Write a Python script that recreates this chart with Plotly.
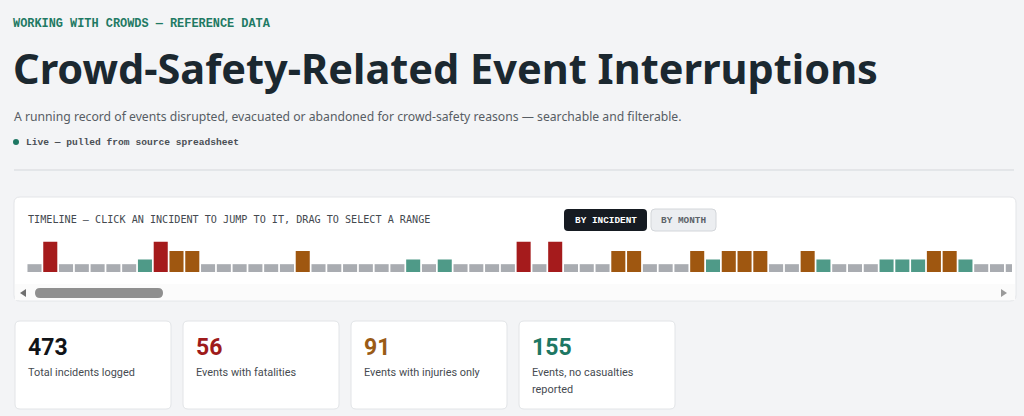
import plotly.graph_objects as go

W, H = 1024, 416

# incident sequence as seen in the visible window of the timeline
incident_type = [
    "U", "F", "U", "U", "U", "U", "U", "N", "F", "I",
    "I", "U", "U", "U", "U", "U", "U", "I", "U", "U",
    "U", "U", "U", "U", "N", "U", "N", "U", "U", "U",
    "U", "F", "U", "F", "U", "U", "U", "I", "I", "U",
    "U", "U", "I", "N", "I", "I", "I", "U", "U", "I",
    "N", "U", "U", "U", "N", "N", "N", "I", "I", "N",
    "U", "U", "U",
]
type_names = ["F", "I", "N", "U"]
type_labels = ["Fatalities", "Injuries only", "No casualties", "Not recorded"]
type_heights = [3.9, 2.7, 1.6, 1.0]
type_colors = ["#a51b1c", "#9f5710", "#4f9a88", "#a9acb1"]

kpi_values = ["473", "56", "91", "155"]
kpi_labels = [["Total incidents logged"], ["Events with fatalities"],
              ["Events with injuries only"], ["Events, no casualties", "reported"]]
kpi_colors = ["#111418", "#9e1b1b", "#9a5b16", "#1e7763"]

MONO = "Liberation Mono"
SANS = "Noto Sans"


def px(x):
    return x / W


def py(y):
    return 1 - y / H


def rrect(x0, y0, x1, y1, r):
    # rounded rectangle path in paper coordinates, given pixel box
    rx, ry = r / W, r / H
    a, b, c, d = px(x0), py(y1), px(x1), py(y0)
    return (f"M {a+rx},{b} L {c-rx},{b} Q {c},{b} {c},{b+ry} L {c},{d-ry} "
            f"Q {c},{d} {c-rx},{d} L {a+rx},{d} Q {a},{d} {a},{d-ry} "
            f"L {a},{b+ry} Q {a},{b} {a+rx},{b} Z")


fig = go.Figure()

for code, label, h, col in zip(type_names, type_labels, type_heights, type_colors):
    idx = [i for i, t in enumerate(incident_type) if t == code]
    fig.add_trace(go.Bar(
        x=idx, y=[h] * len(idx), name=label, marker_color=col,
        marker_line_width=0,
        hovertemplate="Incident #%{x}<br>" + label + "<extra></extra>",
    ))

shapes = []
# header rule
shapes.append(dict(type="line", xref="paper", yref="paper", x0=px(14), x1=px(1014),
                   y0=py(170), y1=py(170), line=dict(color="#d4d7db", width=1)))
# live dot
shapes.append(dict(type="circle", xref="paper", yref="paper",
                   x0=px(13), x1=px(19), y0=py(145), y1=py(139),
                   fillcolor="#1e7763", line_width=0))
# timeline card
shapes.append(dict(type="path", xref="paper", yref="paper", path=rrect(14, 197, 1016, 301, 6),
                   fillcolor="#ffffff", line=dict(color="#e3e5e8", width=1), layer="below"))
# scroll track + thumb
shapes.append(dict(type="rect", xref="paper", yref="paper", x0=px(15), x1=px(1015),
                   y0=py(300), y1=py(284), fillcolor="#fbfbfb", line_width=0, layer="below"))
shapes.append(dict(type="path", xref="paper", yref="paper", path=rrect(35, 288, 163, 298, 5),
                   fillcolor="#8f8f8f", line_width=0))
shapes.append(dict(type="path", xref="paper", yref="paper",
                   path=f"M {px(20)},{py(293)} L {px(26)},{py(289)} L {px(26)},{py(297)} Z",
                   fillcolor="#6f6f6f", line_width=0))
shapes.append(dict(type="path", xref="paper", yref="paper",
                   path=f"M {px(1007)},{py(293)} L {px(1001)},{py(289)} L {px(1001)},{py(297)} Z",
                   fillcolor="#9a9a9a", line_width=0))
# toggle buttons
shapes.append(dict(type="path", xref="paper", yref="paper", path=rrect(564, 209, 647, 231, 4),
                   fillcolor="#161b22", line_width=0))
shapes.append(dict(type="path", xref="paper", yref="paper", path=rrect(651, 209, 716, 231, 4),
                   fillcolor="#eceef1", line=dict(color="#d3d6da", width=1)))
# kpi cards
card_x = [15, 183, 351, 519]
for cx in card_x:
    shapes.append(dict(type="path", xref="paper", yref="paper", path=rrect(cx, 321, cx + 156, 409, 5),
                       fillcolor="#ffffff", line=dict(color="#e2e4e7", width=1), layer="below"))

ann = []


def txt(x, y, s, size, color, family=SANS, anchor="left", yanchor="middle"):
    ann.append(dict(x=px(x), y=py(y), xref="paper", yref="paper", text=s, showarrow=False,
                    xanchor=anchor, yanchor=yanchor, align="left",
                    font=dict(size=size, color=color, family=family)))


txt(11, 24, "<b>WORKING WITH CROWDS — REFERENCE DATA</b>", 11.9, "#1f7a64", MONO)
txt(11, 68, "<b>Crowd-Safety-Related Event Interruptions</b>", 41.5, "#1b2830")
txt(12, 116, "A running record of events disrupted, evacuated or abandoned for crowd-safety reasons — searchable and filterable.",
    12.2, "#575d64")
txt(24, 142, "<b>Live — pulled from source spreadsheet</b>", 9.6, "#4a4f55", MONO)
txt(26, 219, "TIMELINE — CLICK AN INCIDENT TO JUMP TO IT, DRAG TO SELECT A RANGE", 10.15, "#44494f", "DejaVu Sans Mono")
txt(605.5, 220, "<b>BY INCIDENT</b>", 9.4, "#ffffff", MONO, anchor="center")
txt(683.5, 220, "<b>BY MONTH</b>", 9.4, "#5d6369", MONO, anchor="center")

for cx, v, lines, col in zip(card_x, kpi_values, kpi_labels, kpi_colors):
    txt(cx + 11, 347, f"<b>{v}</b>", 23, col, "Roboto")
    for k, line in enumerate(lines):
        txt(cx + 11, 372 + 17 * k, line, 10.9, "#464b51", "Roboto")

fig.update_layout(
    width=W, height=H, margin=dict(l=0, r=0, t=0, b=0),
    paper_bgcolor="#f3f4f6", plot_bgcolor="rgba(0,0,0,0)",
    showlegend=False, bargap=0.11,
    shapes=shapes, annotations=ann,
    xaxis=dict(domain=[px(27), px(1012)], range=[-0.475, 61.95], visible=False),
    yaxis=dict(domain=[py(272), py(241.5)], range=[0, 3.9], visible=False, fixedrange=True),
    hoverlabel=dict(font_family=SANS),
)

fig.write_html("out.html", config={"displayModeBar": False},
               post_script="document.body.style.margin='0';document.body.style.background='#f3f4f6';")
